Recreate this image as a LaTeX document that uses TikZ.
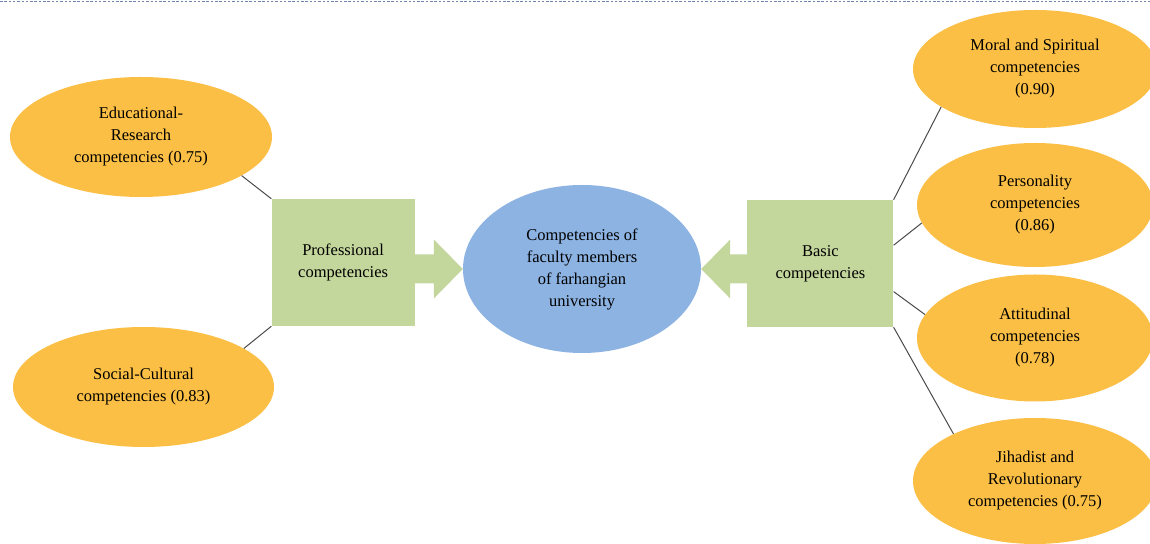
\documentclass[tikz,border=0pt]{standalone}
\usepackage{fontspec}
\setmainfont{Liberation Serif}
\usetikzlibrary{positioning,shapes.geometric,calc}

\definecolor{leaforange}{HTML}{FBBF45}
\definecolor{hubgreen}{HTML}{C3D69B}
\definecolor{corebblue}{HTML}{8DB3E2}
\definecolor{linegray}{HTML}{4A4A4A}
\definecolor{rulegray}{HTML}{6F84AC}

\begin{document}
\begin{tikzpicture}[x=1pt, y=1pt, font={\fontsize{16.5}{22}\selectfont},
    leaf/.style={ellipse, fill=leaforange, inner sep=0pt, align=center},
    hub/.style={rectangle, fill=hubgreen, minimum height=127pt, inner sep=0pt, align=center},
    link/.style={draw=linegray, line width=1pt},
    pointer/.style={fill=hubgreen}]
    \clip (0,0) rectangle (1150,543);
    \draw[rulegray, line width=1.6pt, dash pattern=on 2.5pt off 1.8pt] (0,541.6) -- (1150,541.6);

    % core and the two groups
    \node [ellipse, fill=corebblue, inner sep=0pt, align=center, minimum width=238pt, minimum height=168pt] (core) at (582,274) {Competencies of\\faculty members\\of farhangian\\university};
    \node [hub, minimum width=143pt, left=48pt of core, yshift=6.5pt] (prof) {Professional\\competencies};
    \node [hub, minimum width=146pt, right=46pt of core, yshift=5.5pt] (basic) {Basic\\competencies};

    % block arrows into the core
    \fill[pointer] (core.west) -- ++(-29,29.5) |- ($(prof.east |- core.west)+(0,14.5)$)
        -- ($(prof.east |- core.west)+(0,-14.5)$) -| ($(core.west)+(-29,-29.5)$) -- cycle;
    \fill[pointer] (core.east) -- ++(29,29.5) |- ($(basic.west |- core.east)+(0,14.5)$)
        -- ($(basic.west |- core.east)+(0,-14.5)$) -| ($(core.east)+(29,-29.5)$) -- cycle;

    % professional side
    \node [leaf, minimum width=262pt, minimum height=120pt] (edu) at (141,406) {Educational-\\Research\\competencies (0.75)};
    \node [leaf, minimum width=261pt, minimum height=120pt] (soc) at (143.5,156) {Social-Cultural\\competencies (0.83)};
    \draw[link] (edu.-21) -- (prof.north west);
    \draw[link] (soc.21) -- (prof.south west);

    % basic side
    \node [leaf, minimum width=244pt, minimum height=118pt] (moral) at (1035,474) {Moral and Spiritual\\competencies\\(0.90)};
    \node [leaf, minimum width=236pt, minimum height=124pt] (pers) at (1035,338) {Personality\\competencies\\(0.86)};
    \node [leaf, minimum width=236pt, minimum height=127pt] (att) at (1035,205) {Attitudinal\\competencies\\(0.78)};
    \node [leaf, minimum width=244pt, minimum height=126pt] (jihad) at (1035,62) {Jihadist and\\Revolutionary\\competencies (0.75)};
    \draw[link] (basic.north east) -- (moral.202.7);
    \draw[link] (basic.14.2) -- (pers.189.4);
    \draw[link] (basic.-21.3) -- (att.168.7);
    \draw[link] (basic.south east) -- (jihad.150.5);

\end{tikzpicture}
\end{document}
